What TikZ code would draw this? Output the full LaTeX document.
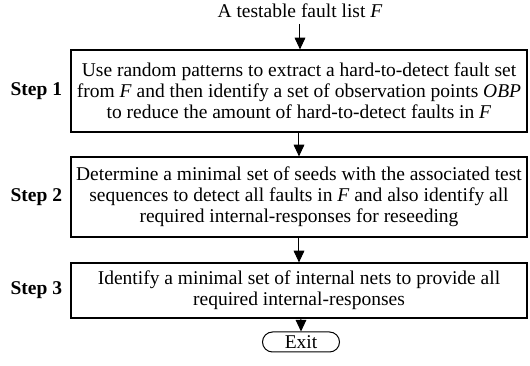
\documentclass[tikz,border=0pt]{standalone}
\usepackage{fontspec}
\setmainfont{Liberation Serif}
\usetikzlibrary{
    arrows.meta,
    positioning,
    shapes.misc
}

\begin{document}
\begin{tikzpicture}[x=0.6pt,y=-0.6pt,
    txt/.style={font=\fontsize{11.7}{12.6}\selectfont},
    stepbox/.style={txt, draw, line width=0.7pt, minimum width=273.6pt,
        align=center, inner sep=0pt},
    steplabel/.style={txt, font=\fontsize{11.7}{12.6}\selectfont\bfseries},
    flow/.style={-{Triangle[length=7pt,width=6.4pt]}, line width=0.6pt}
]
\useasboundingbox (0,0) rectangle (530,366);

% Input and steps
\node[txt] (list) at (300,11) {A testable fault list \textit{F}};
\node[stepbox, minimum height=49.2pt] (s1) at (299,91)
    {Use random patterns to extract a hard-to-detect fault set\\
     from \textit{F} and then identify a set of observation points \textit{OBP}\\
     to reduce the amount of hard-to-detect faults in \textit{F}};
\node[stepbox, minimum height=48pt] (s2) at (299,197)
    {Determine a minimal set of seeds with the associated test\\
     sequences to detect all faults in \textit{F} and also identify all\\
     required internal-responses for reseeding};
\node[stepbox, minimum height=33pt] (s3) at (299,290.5)
    {Identify a minimal set of internal nets to provide all\\
     required internal-responses};
\node[txt, draw, line width=0.6pt, rounded rectangle, minimum width=46.2pt,
    minimum height=12pt, inner sep=0pt] (exit) at (301,342) {Exit};

% Step labels
\foreach \i in {1,2,3} {
    \node[steplabel, left=1.5pt of s\i] (l\i) {Step \i};
}

% Flow
\draw[flow] (list) -- (list |- s1.north);
\draw[flow] (s1) -- (s2);
\draw[flow] (s2) -- (s3);
\draw[flow] (s3.south -| exit) -- (exit);
\end{tikzpicture}
\end{document}
